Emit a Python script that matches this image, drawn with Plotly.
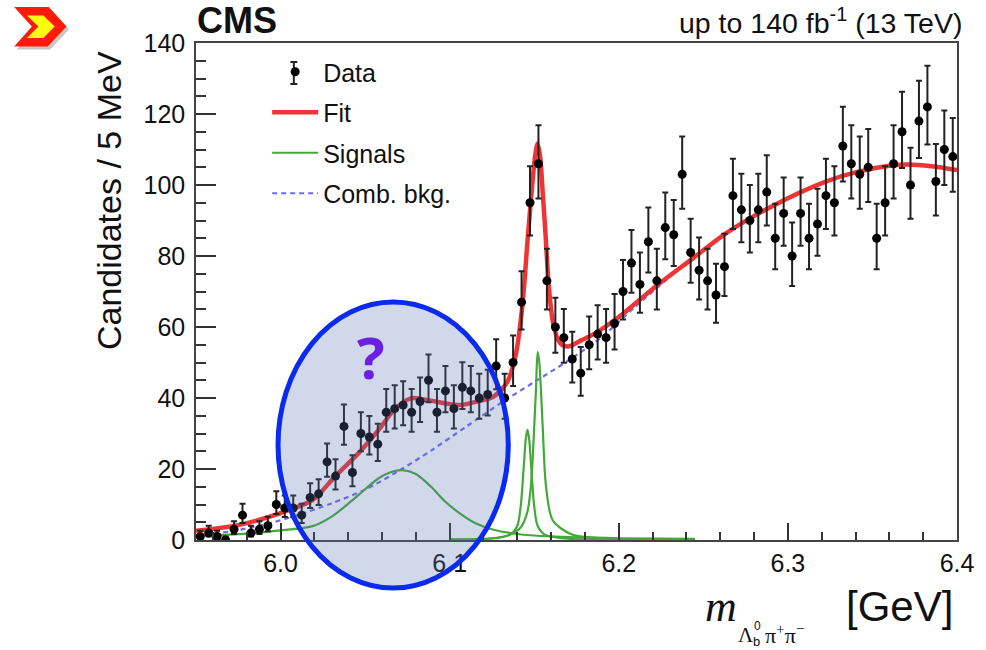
import numpy as np
import plotly.graph_objects as go

# ---- binned data: 5 MeV bins between 5.95 and 6.40 GeV ----
bin_lo = 5.95
bin_width = 0.005
counts = [1, 2, 1, 0, 3, 7, 2, 3, 4, 10,
          9, 9, 7, 12, 13, 22, 18, 32, 19, 30,
          29, 27, 36, 37, 38, 36, 39, 45, 36, 42,
          37, 43, 42, 40, 41, 49, 40, 50, 67, 95,
          106, 73, 60, 57, 51, 47, 55, 58, 57, 61,
          70, 78, 72, 84, 73, 88, 86, 103, 81, 76,
          73, 69, 77, 97, 93, 90, 93, 98, 85, 92,
          80, 92, 85, 89, 97, 95, 111, 106, 103, 105,
          85, 95, 106, 115, 100, 118, 122, 101, 110, 108]

# ---- fit result curves (mass in GeV, candidates / 5 MeV) ----
fit_m = [5.950, 5.975, 6.000, 6.019, 6.032, 6.046, 6.058, 6.067, 6.077, 6.087,
         6.097, 6.106, 6.116, 6.126, 6.134, 6.139, 6.143, 6.146, 6.149, 6.1505,
         6.152, 6.1535, 6.155, 6.1567, 6.1587, 6.1616, 6.1655, 6.170, 6.178, 6.186,
         6.200, 6.222, 6.244, 6.264, 6.293, 6.322, 6.341, 6.361, 6.371, 6.385, 6.400]
fit_y = [2.6, 4.2, 7.6, 11.3, 17.8, 24.4, 31.0, 36.6, 39.9, 39.4,
         38.5, 38.0, 39.0, 40.4, 44.5, 52.0, 66.0, 84.0, 101.0, 108.0,
         111.7, 108.0, 98.0, 86.0, 71.0, 60.0, 55.4, 54.5, 56.3, 58.2,
         62.8, 71.5, 79.4, 86.6, 94.6, 100.9, 103.7, 105.5, 105.8, 105.3, 104.2]

bkg_m = [5.950, 5.970, 5.990, 6.010, 6.030, 6.050, 6.070, 6.090, 6.110, 6.130,
         6.150, 6.170, 6.190, 6.210, 6.230, 6.250, 6.270, 6.290, 6.310, 6.330,
         6.350, 6.370, 6.390, 6.400]
bkg_y = [1.2, 2.4, 4.3, 7.0, 10.3, 14.2, 19.5, 25.5, 32.0, 38.5,
         44.5, 50.5, 57.2, 65.8, 74.0, 81.6, 88.5, 94.0, 98.5, 102.0,
         104.6, 105.8, 105.2, 104.2]

# broad excess near 6.07 GeV
sig1_m = [5.950, 5.980, 6.000, 6.019, 6.030, 6.042, 6.050, 6.058, 6.065, 6.072,
          6.080, 6.089, 6.097, 6.106, 6.115, 6.126, 6.140, 6.160, 6.200, 6.245]
sig1_y = [1.2, 1.8, 2.7, 3.9, 6.5, 11.0, 14.3, 17.4, 19.1, 19.7,
          18.6, 15.0, 11.0, 7.5, 4.8, 2.9, 1.7, 1.0, 0.5, 0.3]

# narrow state near 6.146 GeV
sig2_m = [6.100, 6.126, 6.136, 6.140, 6.142, 6.144, 6.145, 6.146, 6.147, 6.148,
          6.150, 6.152, 6.156, 6.166, 6.186, 6.245]
sig2_y = [0.1, 0.5, 1.6, 4.0, 9.5, 22.0, 28.5, 31.0, 28.5, 22.0,
          9.5, 4.0, 1.6, 0.5, 0.15, 0.03]

# narrow state near 6.152 GeV
sig3_m = [6.100, 6.132, 6.142, 6.146, 6.148, 6.149, 6.150, 6.151, 6.152, 6.153,
          6.154, 6.155, 6.157, 6.161, 6.172, 6.192, 6.245]
sig3_y = [0.15, 0.9, 3.5, 8.0, 15.0, 22.0, 32.0, 42.0, 53.0, 50.0,
          42.0, 32.0, 15.0, 5.5, 1.6, 0.4, 0.1]

x_ticks = [6.0, 6.1, 6.2, 6.3, 6.4]
y_ticks = [0, 20, 40, 60, 80, 100, 120, 140]

centers = bin_lo + bin_width * (np.arange(len(counts)) + 0.5)
n = np.array(counts, dtype=float)
err_hi = np.sqrt(n + 0.25) + 0.5
err_lo = np.sqrt(n + 0.25) - 0.5

RED = "#ef3434"
GREEN = "#45a83a"
BLUE = "#6d6cf0"
FONT = "Liberation Sans, Arial, Helvetica, sans-serif"
SERIF = "Liberation Serif, Times New Roman, serif"

# plot frame in pixels
L, R, T, B = 196, 966, 43, 540
W, H = 986, 650


def px(x):
    return (x - L) / (R - L)


def py(y):
    return (B - y) / (B - T)


fig = go.Figure()

fig.add_trace(go.Scatter(
    x=bkg_m, y=bkg_y, mode="lines", name="Comb. bkg.",
    line=dict(color=BLUE, width=2.2, dash="5px,4px", shape="spline", smoothing=0.8),
    legendgroup="bkg", legendrank=4))

for i, (sm, sy) in enumerate([(sig1_m, sig1_y), (sig2_m, sig2_y), (sig3_m, sig3_y)]):
    fig.add_trace(go.Scatter(
        x=sm, y=sy, mode="lines", name="Signals",
        line=dict(color=GREEN, width=2.2, shape="spline", smoothing=0.8),
        legendgroup="sig", showlegend=(i == 0), legendrank=3))

fig.add_trace(go.Scatter(
    x=fit_m, y=fit_y, mode="lines", name="Fit",
    line=dict(color=RED, width=4.5, shape="spline", smoothing=0.8),
    legendgroup="fit", legendrank=2))

fig.add_trace(go.Scatter(
    x=centers, y=counts, mode="markers", name="Data",
    marker=dict(color="black", size=9),
    error_y=dict(type="data", symmetric=False, array=err_hi, arrayminus=err_lo,
                 color="#222", thickness=2, width=3),
    legendgroup="data", legendrank=1))

axis_common = dict(
    showgrid=False, zeroline=False, showline=True, mirror=True,
    linecolor="#444", linewidth=1.5, ticks="inside", tickcolor="#333",
    tickwidth=1.5, tickfont=dict(family=FONT, size=25, color="#111"))

fig.update_xaxes(range=[5.95, 6.40], tickvals=x_ticks, ticktext=[f"{v:.1f}" for v in x_ticks],
                 ticklen=17, ticklabelstandoff=0,
                 minor=dict(dtick=0.02, tick0=6.0, ticks="inside", ticklen=8,
                            tickcolor="#333", tickwidth=1.5),
                 **axis_common)
fig.update_yaxes(range=[0, 140], tickvals=y_ticks, ticklen=20, ticklabelstandoff=4,
                 minor=dict(dtick=5, tick0=0, ticks="inside", ticklen=10,
                            tickcolor="#333", tickwidth=1.5),
                 **axis_common)

ann = []
# y-axis title
ann.append(dict(text="Candidates / 5 MeV", x=px(108), y=py(201), textangle=-90,
                font=dict(family=FONT, size=34, color="#111")))
# x-axis title pieces
ann.append(dict(text="<i>m</i>", x=px(727), y=py(607),
                font=dict(family=SERIF, size=44, color="#111")))
ann.append(dict(text="Λ", x=px(752), y=py(635),
                font=dict(family=SERIF, size=21, color="#111")))
ann.append(dict(text="0", x=px(764), y=py(626),
                font=dict(family=FONT, size=12, color="#111")))
ann.append(dict(text="b", x=px(763), y=py(641),
                font=dict(family=FONT, size=13, color="#111")))
ann.append(dict(text="π<sup>+</sup>π<sup>−</sup>", x=px(771), y=py(634), xanchor="left",
                font=dict(family=SERIF, size=22, color="#111")))
ann.append(dict(text="[GeV]", x=px(908), y=py(607),
                font=dict(family=FONT, size=42, color="#111")))
# header labels
ann.append(dict(text="<b>CMS</b>", x=px(196), y=py(20), xanchor="left",
                font=dict(family=FONT, size=36, color="#111")))
ann.append(dict(text="up to 140 fb<sup>-1</sup> (13 TeV)", x=px(972), y=py(21), xanchor="right",
                font=dict(family=FONT, size=28.5, color="#111")))
# question mark inside the highlighted region
ann.append(dict(text="<b>?</b>", x=px(373), y=py(356),
                font=dict(family="Open Sans, sans-serif", size=58, color="#6b1fe3")))

for a in ann:
    a.setdefault("xanchor", "center")
    a.update(xref="paper", yref="paper", showarrow=False, yanchor="middle", borderpad=0)

shapes = []


def chevron(pts):
    d = "M " + " L ".join(f"{px(x):.5f},{py(y):.5f}" for x, y in pts) + " Z"
    return d


outer = [(12, 7), (47, 7), (65, 26.5), (46, 46.5), (12, 46.5), (30, 26.5)]
inner = [(25, 15.5), (41.5, 15.5), (53, 26.5), (41.5, 38), (25, 38), (36.5, 26.5)]
shadow = [(x + 2.5, y + 3) for x, y in outer]
shapes.append(dict(type="path", path=chevron(shadow), xref="paper", yref="paper",
                   fillcolor="rgba(0,0,0,0.22)", line=dict(width=0), layer="above"))
shapes.append(dict(type="path", path=chevron(outer), xref="paper", yref="paper",
                   fillcolor="#ff1a0a", line=dict(width=0), layer="above"))
shapes.append(dict(type="path", path=chevron(inner), xref="paper", yref="paper",
                   fillcolor="#ffff10", line=dict(width=0), layer="above"))
# highlighted region
shapes.append(dict(type="circle", xref="paper", yref="paper",
                   x0=px(279), x1=px(512), y0=py(588), y1=py(302),
                   fillcolor="rgba(90,115,175,0.28)",
                   line=dict(color="#0a2af0", width=5), layer="above"))

# error-bar glyph on the "Data" legend entry
lx, ly0, ly1 = 295, 62, 84
bar_style = dict(xref="paper", yref="paper", type="line",
                 line=dict(color="#222", width=2), layer="above")
shapes.append(dict(x0=px(lx), x1=px(lx), y0=py(ly0), y1=py(ly1), **bar_style))
shapes.append(dict(x0=px(lx - 3.5), x1=px(lx + 3.5), y0=py(ly0), y1=py(ly0), **bar_style))
shapes.append(dict(x0=px(lx - 3.5), x1=px(lx + 3.5), y0=py(ly1), y1=py(ly1), **bar_style))

fig.update_layout(
    width=W, height=H,
    margin=dict(l=L, r=W - R, t=T, b=H - B, pad=0),
    paper_bgcolor="white", plot_bgcolor="white",
    font=dict(family=FONT, color="#111"),
    showlegend=True,
    legend=dict(x=px(268), y=py(49), xanchor="left", yanchor="top",
                bgcolor="rgba(0,0,0,0)", borderwidth=0,
                font=dict(family=FONT, size=25, color="#111"),
                itemwidth=46, tracegroupgap=5, traceorder="grouped"),
    annotations=ann, shapes=shapes,
)

fig.write_html("out.html")
